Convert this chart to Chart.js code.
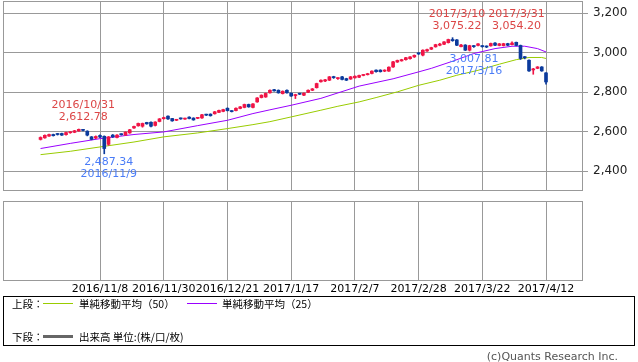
<!DOCTYPE html>
<html>
<head>
<meta charset="utf-8">
<script src="https://cdn.jsdelivr.net/npm/chart.js@4.4.1/dist/chart.umd.min.js"></script>
<style>
html, body { margin: 0; padding: 0; background: #fff; }
#wrap { position: relative; width: 638px; height: 362px; overflow: hidden; font-family: "DejaVu Sans", sans-serif; }
#price { position: absolute; left: 0; top: 0; }
#vol { position: absolute; left: 0; top: 190px; }
.legend { position: absolute; left: 3px; top: 296px; width: 630px; height: 48px; border: 1px solid #000;
          font-family: "Noto Sans CJK JP", sans-serif; font-size: 10.5px; color: #000; }
.legend span { position: absolute; line-height: 12px; white-space: nowrap; }
.legend i { position: absolute; display: block; width: 30px; }
.copy { position: absolute; right: 20px; top: 351px; font-size: 11px; line-height: 12px; color: #555; }
</style>
</head>
<body>
<div id="wrap">
  <canvas id="price" width="638" height="200"></canvas>
  <canvas id="vol" width="638" height="106"></canvas>
  <div class="legend">
    <span style="left:8px;top:1px">上段：</span>
    <i style="left:39px;top:6px;border-top:1px solid #99cc00"></i>
    <span style="left:75px;top:1px">単純移動平均（50）</span>
    <i style="left:183px;top:6px;border-top:1px solid #9900ff"></i>
    <span style="left:218px;top:1px">単純移動平均（25）</span>
    <span style="left:8px;top:34px">下段：</span>
    <i style="left:39px;top:38px;border-top:3px solid #666"></i>
    <span style="left:75px;top:34px">出来高 単位:(株/口/枚)</span>
  </div>
  <div class="copy">(c)Quants Research Inc.</div>
</div>
<script>
// ── DATA (daily candles 2016/10/18 .. 2017/4/12, index = trading day) ──
const tickIdx    = [14, 29, 44, 59, 74, 89, 104, 119];
const tickLabels = ['2016/11/8', '2016/11/30', '2016/12/21', '2017/1/17', '2017/2/7', '2017/2/28', '2017/3/22', '2017/4/12'];
const yTicks     = [2400, 2600, 2800, 3000, 3200];

const opens  = [2560,2568,2577,2585,2587,2590,2584,2594,2596,2603, 2609,2602,2573,2567,2580,2576,2535,2582,2570,2587,
                2582,2593,2618,2629,2627,2646,2647,2631,2651,2665, 2678,2666,2657,2667,2663,2673,2668,2667,2669,2686,
                2688,2690,2697,2702,2718,2704,2706,2717,2722,2737, 2722,2750,2772,2775,2796,2812,2809,2792,2809,2794,
                2782,2792,2784,2799,2809,2822,2852,2856,2860,2875, 2868,2877,2868,2866,2872,2875,2884,2888,2894,2911,
                2911,2906,2906,2927,2952,2958,2964,2969,2978,2998, 2987,3008,3017,3029,3037,3042,3050,3066,3064,3030,
                3038,3012,3033,3036,3033,3031,3034,3048,3036,3035, 3045,3040,3052,3036,2977,2961,2912,2920,2927,2897];
const highs  = [2573,2583,2587,2587,2590,2592,2597,2600,2606,2612.78, 2611,2604,2575,2578,2583,2578,2575,2585,2584,2589,
                2599,2611,2628,2643,2643,2647,2649,2650,2666,2673, 2680,2667,2662,2669,2668,2675,2670,2672,2687,2688,
                2690,2702,2709,2713,2720,2706,2720,2727,2739,2739, 2742,2772,2786,2795,2811,2814,2811,2806,2811,2796,
                2789,2794,2796,2811,2818,2845,2862,2864,2879,2880, 2873,2879,2870,2879,2882,2886,2889,2895,2908,2913,
                2913,2913,2928,2955,2962,2966,2976,2980,2988,3000, 3014,3017,3027,3042,3047,3056,3068,3075.22,3066,3041,
                3040,3037,3036,3046,3036,3034,3048,3050,3046,3047, 3047,3054.20,3053,3038,2980,2963,2920,2929,2929,2899];
const lows   = [2557,2566,2575,2577,2582,2580,2582,2591,2594,2601, 2603,2578,2558,2564,2569,2487.34,2530,2570,2568,2582,
                2580,2591,2616,2627,2622,2637,2624,2628,2649,2663, 2662,2652,2655,2662,2661,2664,2657,2665,2667,2681,
                2678,2688,2695,2700,2704,2699,2704,2715,2720,2723, 2720,2748,2770,2773,2794,2804,2794,2790,2794,2778,
                2767,2787,2782,2797,2807,2820,2850,2853,2858,2869, 2864,2862,2858,2864,2870,2873,2882,2886,2892,2901,
                2901,2903,2904,2925,2950,2956,2962,2967,2975,2990, 2983,3006,3015,3027,3034,3040,3048,3057,3035,3028,
                3010,3007.81,3026,3033,3027,3025,3032,3035,3034,3033, 3035,3038,3034,2965,2968,2905,2890,2918,2905,2840];
const closes = [2570,2581,2585,2579,2585,2582,2595,2597,2604,2611, 2606,2582,2560,2575,2572,2514,2573,2573,2582,2584,
                2597,2609,2626,2641,2641,2639,2627,2648,2664,2671, 2664,2654,2660,2664,2666,2666,2659,2670,2685,2683,
                2680,2700,2707,2711,2706,2701,2718,2725,2737,2725, 2740,2770,2784,2793,2809,2806,2796,2804,2796,2780,
                2787,2789,2794,2809,2816,2843,2860,2862,2877,2873, 2871,2864,2860,2877,2880,2884,2887,2893,2906,2903,
                2903,2911,2926,2953,2960,2964,2974,2978,2986,2993, 3012,3015,3025,3040,3043,3054,3066,3060,3037,3038,
                3012,3035,3030,3044,3030,3028,3046,3037,3044,3045, 3037,3048,3036,2970,2974,2907,2917,2927,2907,2851];

// moving averages at a few trading days
const ma25Idx = [0, 7, 14, 22, 29, 37, 44, 50, 54, 59, 66, 75, 83, 89, 92, 97, 102, 107, 111, 114, 117, 119];
const ma25    = [2514,2540,2564,2585,2598,2630,2657,2691,2710,2733,2768,2830,2867,2902,2920,2956,2995,3020,3032,3032,3020,3003];
const ma50Idx = [0, 7, 14, 22, 29, 37, 44, 50, 54, 59, 66, 70, 75, 79, 84, 89, 94, 98, 103, 108, 112, 115, 118, 119];
const ma50    = [2483,2500,2522,2547,2573,2593,2615,2635,2650,2674,2708,2728,2750,2772,2801,2834,2860,2885,2910,2941,2964,2975,2975,2970];

const noteIdx   = [9, 15, 97, 101, 111];
const noteDates = ['2016/10/31', '2016/11/9', '2017/3/10', '2017/3/16', '2017/3/31'];
const noteKind  = ['high', 'low', 'high', 'low', 'high'];

const volume = [];   // 出来高: no data for this series

// ── HELPERS ──
const UP = '#f01446', DOWN = '#0b3a9c', GRID = '#999';
const X_MIN = -8.84, X_MAX = 127.71;
const candleColors = opens.map((o, i) => closes[i] >= o ? UP : DOWN);
const fmt = v => v.toLocaleString('en-US', { minimumFractionDigits: 2, maximumFractionDigits: 2 });

const framePlugin = {
    id: 'frame',
    afterDraw(c) {
        const a = c.chartArea, ctx = c.ctx;
        ctx.save();
        ctx.strokeStyle = GRID; ctx.lineWidth = 1;
        ctx.strokeRect(a.left + .5, a.top + .5, a.right - a.left - 1, a.bottom - a.top);
        ctx.restore();
    }
};

const notesPlugin = {
    id: 'notes',
    afterDatasetsDraw(c) {
        const ctx = c.ctx, xs = c.scales.x, ys = c.scales.y;
        ctx.save();
        ctx.font = '11px "DejaVu Sans"'; ctx.textAlign = 'center'; ctx.textBaseline = 'middle';
        noteIdx.forEach((i, k) => {
            const hi = noteKind[k] === 'high';
            const v = hi ? highs[i] : lows[i];
            const px = xs.getPixelForValue(i) + 4.5, py = ys.getPixelForValue(v);
            ctx.fillStyle = hi ? '#dc4646' : '#4a7cf7';
            if (hi) {
                const lift = k === 4 ? 4 : 0;   // 3/31 label sits on the same row as 3/10
                ctx.fillText(fmt(v), px, py - 11.5 - lift);
                ctx.fillText(noteDates[k], px, py - 24 - lift);
            } else {
                ctx.fillText(fmt(v), px, py + 8.5);
                ctx.fillText(noteDates[k], px, py + 20);
            }
        });
        ctx.restore();
    }
};

const xTicks = s => { s.ticks = tickIdx.map(v => ({ value: v })); };
const noPad  = s => { s.paddingTop = 0; s.paddingBottom = 0; s.paddingLeft = 0; s.paddingRight = 0; };

// ── PRICE PANEL ──
new Chart(document.getElementById('price'), {
    type: 'bar',
    data: {
        datasets: [
            { type: 'line', data: ma50Idx.map((x, k) => ({ x, y: ma50[k] })), borderColor: '#99cc00', borderWidth: 1, pointRadius: 0, order: 4 },
            { type: 'line', data: ma25Idx.map((x, k) => ({ x, y: ma25[k] })), borderColor: '#9900ff', borderWidth: 1, pointRadius: 0, order: 3 },
            { data: opens.map((o, i) => ({ x: i, y: [lows[i], highs[i]] })), backgroundColor: candleColors, barThickness: 1, grouped: false, order: 2 },
            { data: opens.map((o, i) => ({ x: i, y: [o, closes[i]] })), backgroundColor: candleColors, barThickness: 3, minBarLength: 1, grouped: false, order: 1 }
        ]
    },
    options: {
        responsive: false, animation: false,
        layout: { padding: { left: 3, top: 1, right: 0, bottom: 10 } },
        plugins: { legend: { display: false }, tooltip: { enabled: false } },
        scales: {
            x: {
                type: 'linear', min: X_MIN, max: X_MAX, offset: false,
                grid: { color: GRID, drawTicks: false, offset: false },
                border: { display: false },
                ticks: { display: false },
                afterBuildTicks: xTicks,
                afterFit: s => { s.height = 0; noPad(s); }
            },
            y: {
                position: 'right', min: 2304, max: 3261,
                grid: { color: GRID, tickLength: 5 },
                border: { display: false },
                ticks: { padding: 5, color: '#222', font: { family: 'DejaVu Sans', size: 12 }, callback: v => v.toLocaleString('en-US') },
                afterBuildTicks: s => { s.ticks = yTicks.map(v => ({ value: v })); },
                afterFit: s => { s.width = 55; noPad(s); }
            }
        }
    },
    plugins: [framePlugin, notesPlugin]
});

// ── VOLUME PANEL ──
new Chart(document.getElementById('vol'), {
    type: 'bar',
    data: { datasets: [{ data: volume, backgroundColor: '#666' }] },
    options: {
        responsive: false, animation: false,
        layout: { padding: { left: 3, top: 11, right: 0, bottom: 0 } },
        plugins: { legend: { display: false }, tooltip: { enabled: false } },
        scales: {
            x: {
                type: 'linear', min: X_MIN, max: X_MAX, offset: false,
                grid: { color: GRID, drawTicks: false, offset: false },
                border: { display: false },
                ticks: { padding: 3, color: '#000', autoSkip: false, maxRotation: 0, font: { family: 'DejaVu Sans', size: 11 },
                         callback: v => tickLabels[tickIdx.indexOf(v)] },
                afterBuildTicks: xTicks,
                afterFit: s => { s.height = 16; noPad(s); }
            },
            y: {
                position: 'right', min: 0, max: 1,
                grid: { display: false }, border: { display: false },
                ticks: { display: false },
                afterFit: s => { s.width = 55; noPad(s); }
            }
        }
    },
    plugins: [framePlugin]
});
</script>
</body>
</html>
